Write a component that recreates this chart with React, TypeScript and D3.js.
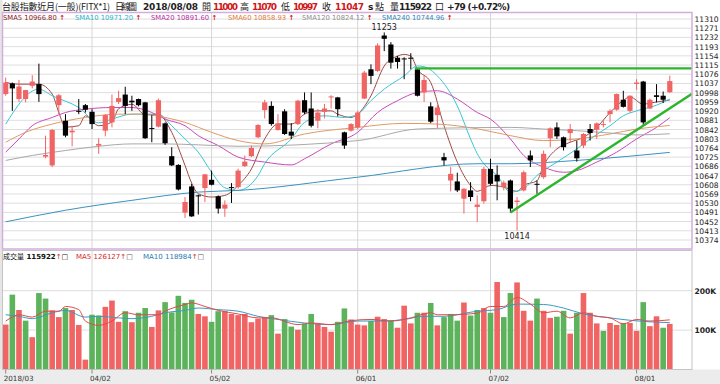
import React from "react"
import * as d3 from "d3"

// daily OHLC, 2018/03/14 .. 2018/08/08 (101 sessions)
const opens = [
  10992, 11037, 10971, 10971, 11027, 11034, 10727, 10690, 10945, 10879,
  10830, 10921, 10945, 10917, 10774, 10837, 10872, 10959, 10990, 10964,
  10971, 10957, 10848, 10854, 10868, 10729, 10692, 10490, 10601, 10563,
  10594, 10629, 10559, 10507, 10598, 10598, 10687, 10729, 10809, 10924,
  10942, 10840, 10919, 10833, 10865, 10966, 10931, 10879, 10917, 10978,
  10978, 10830, 10837, 10851, 10973, 11097, 11090, 11240, 11202, 11146,
  11143, 11146, 11097, 10999, 10940, 10903, 10725, 10626, 10622, 10549,
  10584, 10514, 10538, 10675, 10650, 10598, 10626, 10535, 10584, 10732,
  10612, 10640, 10805, 10851, 10809, 10827, 10753, 10774, 10844, 10841,
  10862, 10907, 10926, 10968, 10921, 11035, 11045, 10931, 10987, 10985,
  11000,
]
const highs = [
  11062, 11041, 11052, 11010, 11072, 11121, 10816, 10844, 10992, 10907,
  10858, 10971, 10950, 10928, 10805, 10907, 10990, 11006, 11023, 10985,
  10973, 10959, 10903, 10973, 10872, 10767, 10695, 10556, 10612, 10566,
  10654, 10668, 10563, 10542, 10615, 10676, 10732, 10774, 10865, 10968,
  10961, 10907, 10928, 10869, 10968, 10999, 10999, 10928, 10950, 10987,
  10980, 10833, 10869, 10921, 11090, 11118, 11207, 11253, 11212, 11153,
  11148, 11165, 11101, 11069, 10957, 10945, 10743, 10683, 10659, 10594,
  10619, 10563, 10683, 10718, 10690, 10626, 10630, 10556, 10668, 10753,
  10626, 10753, 10851, 10872, 10812, 10865, 10795, 10827, 10865, 10872,
  10879, 10928, 10994, 11006, 10987, 11055, 11048, 10973, 11034, 11003,
  11070,
]
const lows = [
  10985, 10921, 10959, 10957, 11016, 10959, 10720, 10683, 10907, 10809,
  10771, 10907, 10914, 10844, 10739, 10813, 10851, 10950, 10907, 10921,
  10940, 10802, 10788, 10851, 10777, 10687, 10584, 10467, 10472, 10482,
  10535, 10605, 10486, 10472, 10531, 10591, 10683, 10725, 10805, 10889,
  10858, 10837, 10819, 10802, 10861, 10907, 10851, 10847, 10889, 10931,
  10897, 10760, 10833, 10844, 10971, 11034, 11086, 11174, 11100, 11100,
  11055, 11097, 10982, 10959, 10869, 10848, 10690, 10580, 10577, 10486,
  10538, 10451, 10528, 10605, 10542, 10584, 10490, 10414, 10580, 10683,
  10570, 10633, 10767, 10802, 10753, 10788, 10706, 10763, 10795, 10802,
  10851, 10872, 10921, 10935, 10914, 11010, 10858, 10928, 10957, 10954,
  10997,
]
const closes = [
  11041, 11016, 11024, 11009, 11045, 10992, 10734, 10840, 10987, 10816,
  10837, 10920, 10926, 10865, 10781, 10903, 10942, 10975, 10942, 10957,
  10945, 10805, 10846, 10966, 10784, 10690, 10588, 10535, 10474, 10562,
  10652, 10608, 10507, 10524, 10597, 10668, 10706, 10764, 10861, 10957,
  10865, 10868, 10823, 10816, 10964, 10914, 10858, 10914, 10931, 10982,
  10928, 10774, 10865, 10914, 11083, 11069, 11198, 11226, 11125, 11128,
  11141, 11143, 10985, 11052, 10875, 10935, 10711, 10654, 10584, 10591,
  10556, 10524, 10675, 10612, 10622, 10617, 10507, 10541, 10661, 10711,
  10610, 10739, 10847, 10813, 10767, 10844, 10720, 10823, 10827, 10868,
  10865, 10921, 10992, 10938, 10985, 11041, 10872, 10968, 10980, 10968,
  11047,
]
// volume in thousands of contracts
const volumes = [
  114, 190, 151, 124, 82, 194, 180, 150, 133, 156,
  151, 113, 25, 139, 137, 159, 175, 121, 148, 120,
  144, 156, 108, 150, 171, 145, 187, 169, 177, 141,
  135, 121, 148, 148, 141, 138, 141, 120, 129, 133,
  138, 91, 128, 109, 101, 116, 141, 116, 108, 96,
  121, 155, 127, 114, 112, 123, 134, 128, 124, 106,
  162, 117, 144, 144, 169, 112, 133, 141, 124, 170,
  137, 151, 156, 144, 222, 133, 194, 221, 149, 124,
  180, 149, 131, 134, 149, 91, 144, 194, 144, 117,
  98, 118, 113, 118, 118, 98, 171, 110, 135, 106,
  115.922,
]

// moving averages: [session index, value]
const sma5: [number, number][] = [
  [0, 11041], [2, 11034], [5, 11034], [7, 10992], [8, 10914], [9, 10852], [11, 10858], [12, 10900],
  [14, 10858], [16, 10874], [17, 10930], [19, 10949], [21, 10905], [23, 10905], [25, 10830], [27, 10690],
  [28, 10615], [29, 10570], [31, 10556], [33, 10563], [35, 10605], [37, 10675], [39, 10802], [41, 10865],
  [43, 10865], [45, 10907], [47, 10921], [49, 10921], [50, 10907], [52, 10893], [53, 10907], [55, 10985],
  [57, 11111], [59, 11153], [60, 11160], [61, 11153], [62, 11097], [64, 11041], [66, 10858], [68, 10704],
  [70, 10605], [71, 10580], [73, 10605], [75, 10598], [77, 10580], [78, 10605], [80, 10625], [81, 10690],
  [83, 10760], [85, 10788], [87, 10809], [89, 10851], [91, 10914], [93, 10965], [94, 10980], [96, 10949],
  [97, 10954], [100, 10967],
]
const sma10: [number, number][] = [
  [0, 10865], [5, 11013], [7, 10985], [11, 10935], [14, 10870], [16, 10886], [19, 10907], [23, 10907],
  [25, 10858], [27, 10802], [29, 10746], [31, 10661], [33, 10595], [35, 10584], [38, 10647], [39, 10697],
  [43, 10802], [45, 10872], [48, 10900], [51, 10893], [53, 10907], [55, 10964], [57, 11013], [60, 11069],
  [62, 11111], [63, 11108], [65, 11069], [68, 10942], [70, 10802], [71, 10740], [72, 10697], [74, 10647],
  [76, 10577], [78, 10591], [80, 10647], [83, 10704], [86, 10760], [88, 10802], [91, 10858], [93, 10900],
  [95, 10921], [98, 10945], [100, 10971],
]
const sma20: [number, number][] = [
  [0, 10746], [2, 10802], [4, 10858], [7, 10893], [9, 10914], [12, 10928], [16, 10935], [19, 10935],
  [22, 10914], [24, 10886], [27, 10858], [29, 10816], [32, 10774], [35, 10725], [39, 10704], [43, 10692],
  [45, 10718], [49, 10781], [53, 10830], [56, 10914], [59, 10964], [62, 10999], [65, 11006], [68, 10971],
  [71, 10914], [73, 10886], [76, 10802], [78, 10732], [81, 10683], [84, 10661], [86, 10668], [89, 10704],
  [92, 10746], [95, 10802], [98, 10851], [100, 10892],
]
const sma60: [number, number][] = [
  [0, 10788], [3, 10830], [7, 10865], [12, 10893], [17, 10907], [20, 10907], [24, 10893], [27, 10872],
  [31, 10830], [35, 10795], [39, 10781], [45, 10823], [53, 10851], [60, 10868], [65, 10865], [71, 10845],
  [76, 10816], [81, 10795], [86, 10802], [91, 10823], [95, 10844], [100, 10859],
]
const sma120: [number, number][] = [
  [0, 10711], [4, 10732], [9, 10753], [14, 10771], [19, 10781], [24, 10781], [29, 10777], [35, 10771],
  [53, 10795], [62, 10844], [71, 10850], [76, 10851], [81, 10844], [86, 10837], [91, 10827], [95, 10819],
  [100, 10824],
]
const sma240: [number, number][] = [
  [0, 10451], [9, 10500], [19, 10542], [29, 10577], [35, 10584], [53, 10640], [71, 10697], [76, 10697],
  [86, 10711], [94, 10729], [100, 10745],
]
const volMa5: [number, number][] = [
  [0, 123], [1, 133], [2, 139], [4, 133], [6, 148], [8, 148], [9, 160], [11, 152], [12, 123], [14, 112],
  [16, 123], [18, 144], [20, 139], [23, 139], [24, 148], [27, 165], [28, 169], [30, 160], [32, 150],
  [35, 141], [38, 131], [40, 131], [44, 114], [46, 118], [49, 114], [52, 124], [55, 127], [58, 123],
  [61, 131], [64, 144], [65, 139], [67, 139], [71, 143], [73, 160], [75, 160], [77, 183], [79, 166],
  [81, 144], [83, 148], [85, 131], [87, 144], [89, 135], [91, 131], [93, 116], [95, 127], [97, 123],
  [100, 126],
]
const volMa10: [number, number][] = [
  [0, 139], [2, 135], [4, 129], [7, 144], [9, 150], [12, 133], [14, 135], [17, 131], [19, 129], [22, 135],
  [24, 144], [27, 150], [29, 156], [32, 152], [35, 148], [38, 135], [41, 127], [45, 118], [49, 114],
  [53, 123], [57, 123], [60, 127], [63, 135], [66, 135], [71, 148], [74, 152], [77, 166], [81, 165],
  [84, 156], [87, 141], [91, 131], [94, 125], [97, 121], [100, 119],
]

const priceTicks = [
  11310, 11271, 11232, 11193, 11154, 11115, 11076, 11037, 10998, 10959, 10920, 10881, 10842,
  10803, 10764, 10725, 10686, 10647, 10608, 10569, 10530, 10491, 10452, 10413, 10374,
]
const volTicks = [200, 100]
const volTickLabels = ["200K", "100K"]
const dateTickIdx = [0, 13, 31, 53, 73, 95]
const dateTickLabels = ["2018/03", "04/02", "05/02", "06/01", "07/02", "08/01"]

const maNames = ["SMA5", "SMA10", "SMA20", "SMA60", "SMA120", "SMA240"]
const maLast = ["10966.80", "10971.20", "10891.60", "10858.93", "10824.12", "10744.96"]
const volNames = ["成交量", "MA5", "MA10"]
const volLast = ["115922", "126127", "118984"]

// trend lines: support through two session lows, resistance at a session high
const supportIdx = [76, 96]
const resistanceIdx = 62

const SANS = "'DejaVu Sans', Verdana, sans-serif"
const CJK = "'Noto Sans CJK TC', 'Noto Sans CJK SC', sans-serif"
const RED = "#f06464"
const GREEN = "#5cb35c"

export default function App() {
  const W = 720
  const H = 384
  const left = 2.5
  const right = 692
  const mainTop = 12.5
  const mainBot = 249
  const volTop = 250.5
  const volBot = 369.5

  const x = d3.scaleLinear().domain([0, 100]).range([5.7, 669.8])
  const y = d3.scaleLinear().domain([10374, 11310]).range([240, 19])
  const yv = d3.scaleLinear().domain([0, 200]).range([volBot, 290.7])

  const maLine = d3
    .line<[number, number]>()
    .x((d) => x(d[0]))
    .y((d) => y(d[1]))
    .curve(d3.curveMonotoneX)
  const volLine = d3
    .line<[number, number]>()
    .x((d) => x(d[0]))
    .y((d) => yv(d[1]))
    .curve(d3.curveMonotoneX)

  const maSeries = [sma5, sma10, sma20, sma60, sma120, sma240]
  const maColors = ["#9b4a45", "#3cc4d4", "#c84ab8", "#e09a66", "#a8a8a8", "#3a92bf"]
  const maTextColors = ["#8b1c1c", "#2cb8c8", "#b8309f", "#e0803a", "#909090", "#2f86b8"]
  const legendX = [3, 75, 151, 228, 302, 382]

  // support line extended to the right edge
  const [a, b] = supportIdx
  const slope = (lows[b] - lows[a]) / (b - a)
  const edgeIdx = x.invert(right)
  const edgePrice = lows[a] + slope * (edgeIdx - a)

  const idx = d3.range(opens.length)
  const hiIdx = d3.maxIndex(highs)
  const loIdx = d3.minIndex(lows)

  const volColor = (i: number) =>
    (i === 0 ? closes[i] >= opens[i] : closes[i] >= closes[i - 1]) ? RED : GREEN

  return (
    <div style={{ position: "fixed", left: 0, top: 0 }}>
      <svg width={W} height={H} style={{ display: "block" }}>
        <defs>
          <clipPath id="mainClip">
            <rect x={left} y={mainTop} width={right - left} height={mainBot - mainTop} />
          </clipPath>
          <clipPath id="volClip">
            <rect x={left} y={volTop} width={right - left} height={volBot - volTop} />
          </clipPath>
        </defs>
        <rect width={W} height={H} fill="#ffffff" />
        <rect x={0} y={volBot} width={W} height={H - volBot} fill="#ececec" />
        <rect x={0} y={0} width={left} height={volBot} fill="#e6e6e6" />

        {/* header */}
        <g fontSize={9} fill="#222">
          <text x={2} y={10} fontFamily={CJK} textLength={108}>台股指數近月(一般)(FITX*1)</text>
          <text x={115} y={10} fontFamily={CJK} textLength={22}>日線圖</text>
          <text x={143} y={10} fontFamily={SANS} fontWeight="bold" textLength={55}>2018/08/08</text>
          <text x={202} y={10} fontFamily={CJK}>開</text>
          <text x={213} y={10} fontFamily={SANS} fontWeight="bold" fill="#d01818" textLength={25}>11000</text>
          <text x={240} y={10} fontFamily={CJK}>高</text>
          <text x={252} y={10} fontFamily={SANS} fontWeight="bold" fill="#d01818" textLength={25}>11070</text>
          <text x={281} y={10} fontFamily={CJK}>低</text>
          <text x={293} y={10} fontFamily={SANS} fontWeight="bold" fill="#d01818" textLength={25}>10997</text>
          <text x={322} y={10} fontFamily={CJK}>收</text>
          <text x={335} y={10} fontFamily={SANS} fontWeight="bold" fill="#d01818" textLength={29}>11047</text>
          <text x={368} y={10} fontFamily={SANS} fontWeight="bold">s</text>
          <text x={375} y={10} fontFamily={CJK}>點</text>
          <text x={390} y={10} fontFamily={CJK}>量</text>
          <text x={399} y={10} fontFamily={SANS} fontWeight="bold" textLength={33}>115922</text>
          <text x={435} y={10} fontFamily={CJK}>口</text>
          <text x={447} y={10} fontFamily={SANS} fontWeight="bold" textLength={63}>+79 (+0.72%)</text>
        </g>

        {/* main panel */}
        <g>
          {priceTicks.map((p) => (
            <line key={p} x1={left} x2={right} y1={y(p)} y2={y(p)} stroke="#dedede" strokeWidth={1} />
          ))}
          {dateTickIdx.slice(1).map((i) => (
            <line key={i} x1={x(i)} x2={x(i)} y1={mainTop} y2={mainBot} stroke="#d6d6d6" strokeWidth={1} />
          ))}
          <g clipPath="url(#mainClip)">
            {maSeries.map((s, k) => (
              <path key={k} d={maLine(s) ?? ""} fill="none" stroke={maColors[k]} strokeWidth={1} />
            ))}
            {idx.map((i) => {
              const up = closes[i] > opens[i]
              const col = up ? RED : "#000"
              const yTop = y(Math.max(opens[i], closes[i]))
              const hgt = Math.max(1, Math.abs(y(opens[i]) - y(closes[i])))
              const cx = x(i)
              return (
                <g key={i}>
                  <line x1={cx} x2={cx} y1={y(highs[i])} y2={y(lows[i])} stroke={col} strokeWidth={1} />
                  <rect x={cx - 2.6} y={yTop} width={5.2} height={hgt} fill={col} />
                </g>
              )
            })}
            <line
              x1={x(resistanceIdx - 0.4)}
              x2={right}
              y1={y(highs[resistanceIdx])}
              y2={y(highs[resistanceIdx])}
              stroke="#2db52d"
              strokeWidth={2.4}
            />
            <line
              x1={x(a)}
              y1={y(lows[a])}
              x2={right}
              y2={y(edgePrice)}
              stroke="#2db52d"
              strokeWidth={2.4}
            />
          </g>
          <text x={x(hiIdx)} y={y(highs[hiIdx]) - 2} fontFamily={SANS} fontSize={8} fill="#222" textAnchor="middle">
            {highs[hiIdx]}
          </text>
          <text x={x(loIdx)} y={y(lows[loIdx]) + 8.5} fontFamily={SANS} fontSize={8} fill="#222" textAnchor="middle">
            {lows[loIdx]}
          </text>
          <g fontFamily={SANS} fontSize={6.8}>
            {maNames.map((n, k) => (
              <text key={n} x={legendX[k]} y={19.5} fill={maTextColors[k]}>
                {n} {maLast[k]}
                <tspan fill="#d01818" fontWeight="bold"> ↑</tspan>
              </text>
            ))}
          </g>
          <rect x={left} y={mainTop} width={right - left} height={mainBot - mainTop} fill="none" stroke="#d3aedd" strokeWidth={1.5} />
          <g fontFamily={SANS} fontSize={7.6} fill="#222">
            {priceTicks.map((p) => (
              <text key={p} x={694.5} y={y(p) + 3}>{p}</text>
            ))}
          </g>
        </g>

        {/* volume panel */}
        <g>
          {volTicks.map((v) => (
            <line key={v} x1={left} x2={right} y1={yv(v)} y2={yv(v)} stroke="#dedede" />
          ))}
          {dateTickIdx.slice(1).map((i) => (
            <line key={i} x1={x(i)} x2={x(i)} y1={volTop} y2={volBot} stroke="#d6d6d6" />
          ))}
          <g clipPath="url(#volClip)">
            {idx.map((i) => (
              <rect
                key={i}
                x={x(i) - 2.8}
                y={yv(volumes[i])}
                width={5.6}
                height={volBot - yv(volumes[i])}
                fill={volColor(i)}
              />
            ))}
            <path d={volLine(volMa10) ?? ""} fill="none" stroke="#3a9ac0" strokeWidth={1} />
            <path d={volLine(volMa5) ?? ""} fill="none" stroke="#e04a4a" strokeWidth={1} />
          </g>
          <text x={3} y={259} fontSize={7} fill="#111">
            <tspan fontFamily={CJK}>{volNames[0]}</tspan>
            <tspan fontFamily={SANS} fontWeight="bold"> {volLast[0]}</tspan>
            <tspan fontFamily={SANS} fill="#d01818">↑</tspan>
            <tspan fontFamily={SANS}>□</tspan>
          </text>
          <text x={76} y={259} fontSize={7} fontFamily={SANS} fill="#d62828">
            {volNames[1]} {volLast[1]}
            <tspan fill="#d01818">↑</tspan>
            <tspan fill="#555">□</tspan>
          </text>
          <text x={143} y={259} fontSize={7} fontFamily={SANS} fill="#2a78b0">
            {volNames[2]} {volLast[2]}
            <tspan fill="#d01818">↑</tspan>
            <tspan fill="#555">□</tspan>
          </text>
          <rect x={left} y={volTop} width={right - left} height={volBot - volTop} fill="none" stroke="#c4c4c4" strokeWidth={1} />
          <g fontFamily={SANS} fontSize={7.6} fontWeight="bold" fill="#222">
            {volTicks.map((v, k) => (
              <text key={v} x={694.5} y={yv(v) + 3}>{volTickLabels[k]}</text>
            ))}
          </g>
        </g>

        {/* date axis */}
        <g fontFamily={SANS} fontSize={7.2} fill="#333">
          {dateTickIdx.map((i, k) => (
            <g key={i}>
              <line x1={x(i)} x2={x(i)} y1={volBot} y2={volBot + 4} stroke="#888" />
              <text x={x(i) - 2} y={381}>{dateTickLabels[k]}</text>
            </g>
          ))}
        </g>
      </svg>
    </div>
  )
}
